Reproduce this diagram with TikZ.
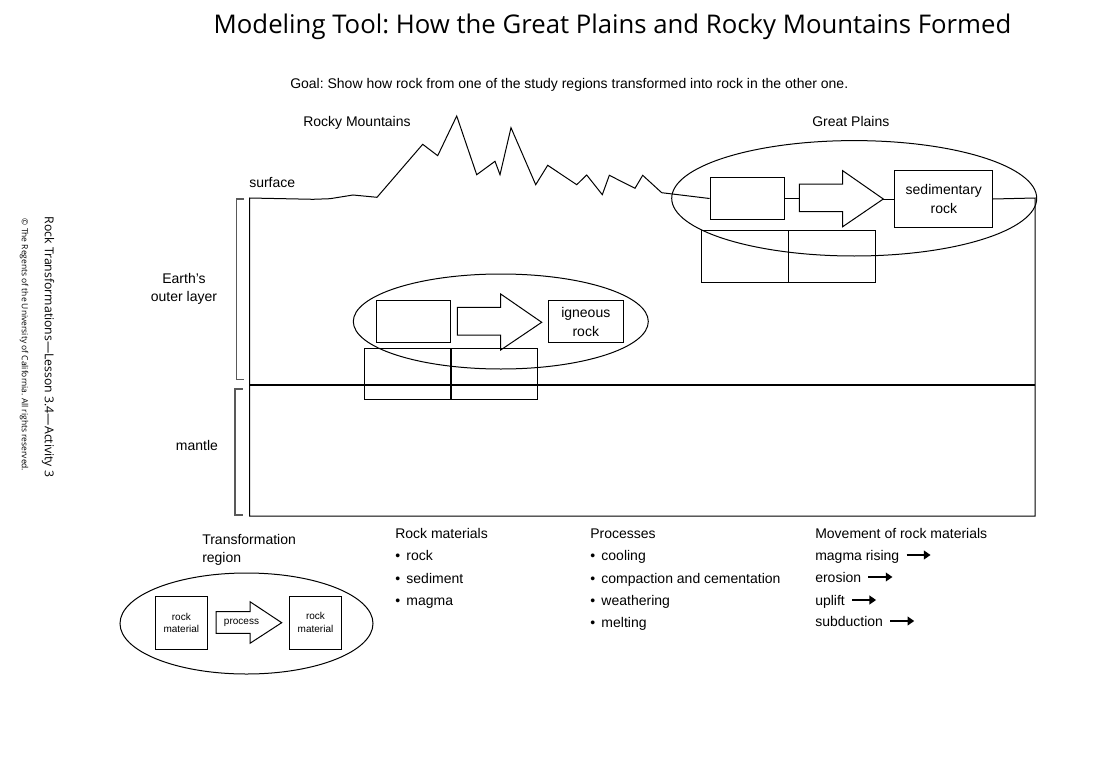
\documentclass[tikz,border=0pt]{standalone}
\usepackage{fontspec}
\setmainfont{Liberation Sans}
\newfontfamily\titlefont{Open Sans}
\usetikzlibrary{shapes.geometric,arrows.meta,calc}
\frenchspacing
\tikzset{
  lbl/.style={font=\fontsize{10.5}{12.6}\selectfont, inner sep=0pt, text height=7.8pt, text depth=0.3pt},
  lbl2/.style={font=\fontsize{10.5}{13.5}\selectfont, inner sep=0pt},
  smalltxt/.style={font=\fontsize{7.5}{9.5}\selectfont, inner sep=0pt, align=center},
  thin/.style={draw, line width=0.75pt},
  box/.style={draw, line width=0.75pt, inner sep=0pt, align=center, font=\fontsize{10.5}{14}\selectfont},
  cell/.style={draw, line width=0.75pt, inner sep=0pt},
  oval/.style={ellipse, draw, line width=0.75pt, inner sep=0pt},
  bracketline/.style={draw=black!65, line width=0.9pt},
  movearrow/.style={line width=1.6pt, -{Triangle[length=5pt,width=6.5pt]}},
}
\begin{document}
\begin{tikzpicture}[x=0.75pt,y=-0.75pt]
\useasboundingbox (0,0) rectangle (1102,763);

% title and header texts
\node[font=\titlefont\fontsize{19.3}{22}\selectfont, inner sep=0pt] (title) at (612.5,27) {Modeling Tool: How the Great Plains and Rocky Mountains Formed};
\node[lbl, anchor=west] (goal) at (290,84) {Goal: Show how rock from one of the study regions transformed into rock in the other one.};
\node[lbl, anchor=west] (rm) at (303,122) {Rocky Mountains};
\node[lbl, anchor=west] (gp) at (812,122) {Great Plains};
\node[lbl, anchor=west] (surf) at (249,182) {surface};

% side texts
\node[font=\titlefont\fontsize{9.2}{11}\selectfont, rotate=-90, inner sep=0pt] (side1) at (48,347) {Rock Transformations—Lesson 3.4—Activity 3};
\node[font=\titlefont\fontsize{6.35}{8}\selectfont, rotate=-90, inner sep=0pt] (side2) at (24,345) {© The Regents of the University of California. All rights reserved.};

% layer labels and brackets
\node[lbl2, align=center] (outer) at (184,289) {Earth’s\\outer layer};
\node[lbl] (mantle) at (197,445) {mantle};
\draw[bracketline] (244,199) -- (236.7,199) -- (236.7,379.3) -- (244,379.3);
\draw[bracketline] (242.7,389) -- (235,389) -- (235,515) -- (242.7,515);

% Great Plains transformation region
\node[box, minimum width=55.7pt, minimum height=31.2pt] (gpA) at (747.2,198.5) {};
\node[box, minimum width=73.3pt, minimum height=43pt] (sed) at (943.8,199) {sedimentary\\rock};
\coordinate (gpTail) at (799.3,198.5);
\coordinate (gpTip) at (883.3,199);
\draw[thin] (gpTail |- 0,184) -- (842.7,184) -- (842.7,170.7) -- (gpTip) -- (842.7,226.7) -- (842.7,211.7) -- (gpTail |- 0,211.7) -- cycle;
\node[cell, minimum width=65pt, minimum height=38.7pt] (gpC1) at (745,256.5) {};
\node[cell, minimum width=65.5pt, minimum height=38.7pt] (gpC2) at (832,256.5) {};
\node[oval, minimum width=273.75pt, minimum height=86.55pt] (gpOval) at (854.2,198.3) {};

% surface line and cross-section outline
\draw[thin] (gpA.west) -- (661.7,192.7) -- (642.7,175.3) -- (635,188.3) -- (609.3,175.3) -- (602.3,194.7) -- (586.7,175) -- (576.7,184.7) -- (547.7,165.3) -- (535.7,184.7) -- (511,127.7) -- (500,174.7) -- (495,161.3) -- (476.7,174.7) -- (456.7,116) -- (437.7,155.7) -- (422.7,144.3) -- (377,197.3) -- (353,195) -- (330,198.7) -- (313,199.3) -- (249.5,198) -- (249.5,516) -- (1035,516) -- (1035,198) -- (sed.east);
\draw[thin] (gpA.east) -- (gpTail);
\draw[thin] (gpTip) -- (sed.west);

% boundary between outer layer and mantle
\coordinate (bndL) at (249.5,385);
\coordinate (bndR) at (1035,385);
\draw[line width=1.5pt] (bndL) -- (bndR);

% Rocky Mountains (igneous) transformation region
\node[box, minimum width=55.5pt, minimum height=31.3pt] (igA) at (413,321.85) {};
\node[box, minimum width=56.25pt, minimum height=31.3pt] (ign) at (585.8,321.85) {igneous\\rock};
\draw[thin] (457.3,307.3) -- (500.7,307.3) -- (500.7,294) -- (541.7,322.3) -- (500.7,350) -- (500.7,335) -- (457.3,335) -- cycle;
\node[cell, minimum width=65pt, minimum height=38.25pt] (igC1) at (407.65,373.8) {};
\node[cell, minimum width=65pt, minimum height=38.25pt] (igC2) at (494.35,373.8) {};
\node[oval, minimum width=221.25pt, minimum height=71.25pt] (igOval) at (500.8,321.5) {};

% legend: transformation region
\node[lbl2, align=left, anchor=west] (trlbl) at (202,549.5) {Transformation\\region};
\node[oval, minimum width=189.75pt, minimum height=75.75pt] (lgOval) at (246.5,623.5) {};
\node[cell, minimum width=39.5pt, minimum height=39.45pt, smalltxt] (lgA) at (181.35,623) {rock\\material};
\node[cell, minimum width=39.3pt, minimum height=39.9pt, smalltxt] (lgB) at (315.5,622.65) {rock\\material};
\draw[thin] (216,611.7) -- (250,611.7) -- (250,601.7) -- (281.7,622.7) -- (250,643.3) -- (250,633.3) -- (216,633.3) -- cycle;
\node[smalltxt] (proc) at (241.5,622.5) {process};

% legend lists
\node[lbl, anchor=west] (rmh) at (395,533) {Rock materials};
\node[lbl, anchor=west] (rm1) at (395,555) {•\hspace{0.45em}rock};
\node[lbl, anchor=west] (rm2) at (395,578) {•\hspace{0.45em}sediment};
\node[lbl, anchor=west] (rm3) at (395,600) {•\hspace{0.45em}magma};

\node[lbl, anchor=west] (prh) at (590,533) {Processes};
\node[lbl, anchor=west] (pr1) at (590,555) {•\hspace{0.45em}cooling};
\node[lbl, anchor=west] (pr2) at (590,578) {•\hspace{0.45em}compaction and cementation};
\node[lbl, anchor=west] (pr3) at (590,600) {•\hspace{0.45em}weathering};
\node[lbl, anchor=west] (pr4) at (590,622) {•\hspace{0.45em}melting};

\node[lbl, anchor=west] (mvh) at (815,533) {Movement of rock materials};
\node[lbl, anchor=west] (mv1) at (815,555) {magma rising};
\node[lbl, anchor=west] (mv2) at (815,577) {erosion};
\node[lbl, anchor=west] (mv3) at (815,600) {uplift};
\node[lbl, anchor=west] (mv4) at (815,621) {subduction};
\foreach \m in {mv1,mv2,mv3,mv4}{
  \coordinate (\m s) at ($(\m.east)+(7,0)$);
  \coordinate (\m e) at ($(\m.east)+(31,0)$);
  \draw[movearrow] (\m s) -- (\m e);
}
\end{tikzpicture}
\end{document}
